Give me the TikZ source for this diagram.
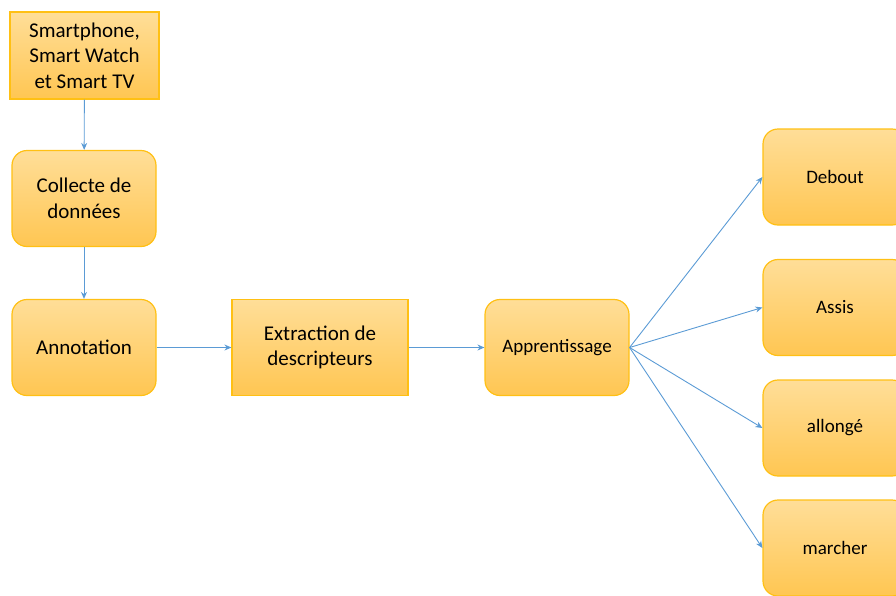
\documentclass[tikz,border=0pt]{standalone}
\usepackage{fontspec}
\setmainfont{Carlito}
\usetikzlibrary{arrows.meta}

\definecolor{boxtop}{RGB}{255,222,152}
\definecolor{boxbot}{RGB}{255,198,82}
\definecolor{boxline}{RGB}{255,192,20}
\definecolor{arrowblue}{RGB}{91,155,213}

\tikzset{
    block/.style={draw=boxline, line width=1.2pt, top color=boxtop, bottom color=boxbot,
        align=center, inner sep=0pt, minimum width=144pt, minimum height=96pt,
        font=\fontsize{21}{25.5}\selectfont},
    roundblock/.style={block, rounded corners=15pt},
    classblock/.style={roundblock, font=\fontsize{19}{23}\selectfont},
    flow/.style={draw=arrowblue, line width=0.9pt, -{Stealth[length=7pt,width=6pt]}}
}

\begin{document}
\begin{tikzpicture}[x=1pt,y=-1pt]
    \useasboundingbox (0,0) rectangle (896,595);
    % left column
    \node[block, minimum width=149pt, minimum height=87pt] (devices) at (84.5,55.5)
        {Smartphone,\\Smart Watch\\et Smart TV};
    \node[roundblock] (collecte) at (84,198.5) {Collecte de\\donn\'ees};
    \node[roundblock] (annot) at (84,347.5) {Annotation};
    % middle row
    \node[block, minimum width=176pt] (extract) at (320,347.5) {Extraction de\\descripteurs};
    \node[classblock] (learn) at (557,347.5) {Apprentissage};
    % classes
    \node[classblock] (debout) at (835,177) {Debout};
    \node[classblock] (assis) at (835,307.5) {Assis};
    \node[classblock] (allonge) at (835,428) {allong\'e};
    \node[classblock] (marcher) at (835,548) {marcher};
    % connectors
    \draw[flow] (devices) -- (collecte);
    \draw[flow] (collecte) -- (annot);
    \draw[flow] (annot) -- (extract);
    \draw[flow] (extract) -- (learn);
    \foreach \cls in {debout,assis,allonge,marcher}
        \draw[flow] (learn.east) -- (\cls.west);
\end{tikzpicture}
\end{document}
